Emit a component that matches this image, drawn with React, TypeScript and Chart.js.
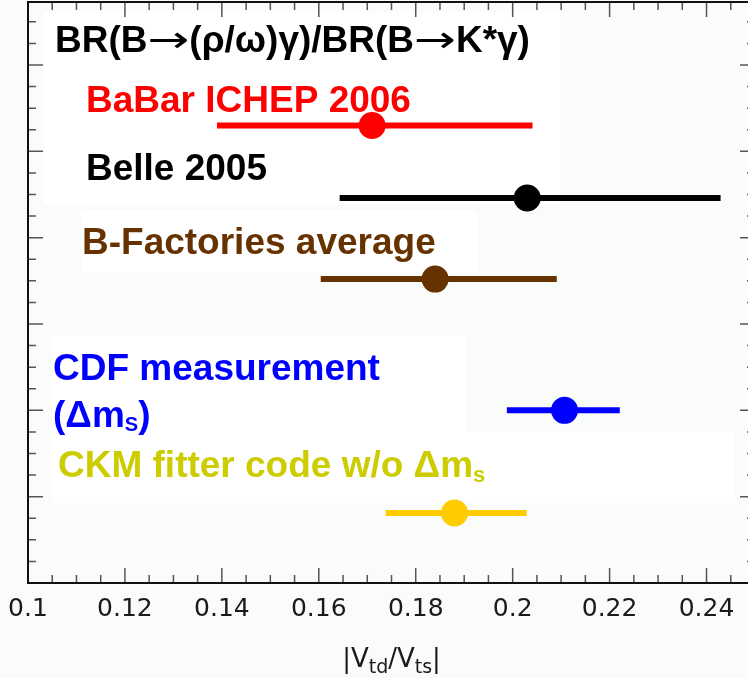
import React, { useEffect, useRef } from "react";
import { Chart, registerables } from "chart.js";

Chart.register(...registerables);

// ---------------- data ----------------
const measurements = [
  "BaBar ICHEP 2006",
  "Belle 2005",
  "B-Factories average",
  "CDF measurement (Δm_S)",
  "CKM fitter code w/o Δm_s",
];
const centralValues = [0.171, 0.203, 0.184, 0.2107, 0.188];
const lowerBounds = [0.139, 0.1643, 0.1604, 0.1988, 0.1738];
const upperBounds = [0.2041, 0.2429, 0.2091, 0.2221, 0.2029];
const rowPositions = [5.3, 4.46, 3.52, 2.0, 0.81];
const markColors = ["#ff0000", "#000000", "#663300", "#0000ff", "#ffcc00"];
const textColors = ["#ff0000", "#000000", "#663300", "#0000ff", "#cccc00"];

const xMin = 0.1;
const xMax = 0.25;
const xStep = 0.02;
const xMinorStep = 0.005;
const yMin = 0;
const yMax = 6.73;
const yMinorStep = 0.25;

// ---------------- styling / layout ----------------
const FONT = '"Liberation Sans", Arial, Helvetica, sans-serif';
const TICK_FONT = '"DejaVu Sans", "Liberation Sans", sans-serif';
const BG = "#f9fcf9";
const CANVAS_W = 770;
const CANVAS_H = 678;

// text run: text, subscript?, font family, weight, horizontal stretch
type Run = { t: string; sub?: boolean; fam?: string; wt?: string; sx?: number };
const ARROW: Run = { t: "→", fam: TICK_FONT, wt: "normal", sx: 1.35 };
const annotations: { runs: Run[]; color: string; x: number; y: number; size: number; subSize: number; subDy: number }[] = [
  {
    runs: [{ t: "BR(B" }, ARROW, { t: "(ρ/ω)γ)/BR(B" }, ARROW, { t: "K*γ)" }],
    color: "#000000", x: 55, y: 52, size: 37, subSize: 20, subDy: 4,
  },
  { runs: [{ t: "BaBar ICHEP 2006" }], color: textColors[0], x: 86, y: 112, size: 37, subSize: 20, subDy: 4 },
  { runs: [{ t: "Belle 2005" }], color: textColors[1], x: 86, y: 180, size: 37, subSize: 20, subDy: 4 },
  { runs: [{ t: "B-Factories average" }], color: textColors[2], x: 82, y: 254, size: 37, subSize: 20, subDy: 4 },
  { runs: [{ t: "CDF measurement" }], color: textColors[3], x: 53, y: 380, size: 37, subSize: 20, subDy: 4 },
  { runs: [{ t: "(Δm" }, { t: "S", sub: true }, { t: ")" }], color: textColors[3], x: 53, y: 427, size: 37, subSize: 20, subDy: 4 },
  { runs: [{ t: "CKM fitter code w/o Δm" }, { t: "s", sub: true }], color: textColors[4], x: 58, y: 477, size: 37, subSize: 22, subDy: 5 },
];

const whiteBoxes = [
  [44, 12, 560, 205],
  [81, 210, 477, 273],
  [52, 335, 465, 432],
  [52, 432, 735, 503],
];

function setFont(ctx: CanvasRenderingContext2D, r: Run, size: number, subSize: number, weight: string, family: string) {
  ctx.font = `${r.wt || weight} ${r.sub ? subSize : size}px ${r.fam || family}`;
}

function drawRuns(ctx: CanvasRenderingContext2D, runs: Run[], x: number, y: number, size: number, subSize: number, subDy: number, weight: string, family: string) {
  let cx = x;
  for (const r of runs) {
    setFont(ctx, r, size, subSize, weight, family);
    const sx = r.sx || 1;
    const w = ctx.measureText(r.t).width * sx;
    ctx.save();
    ctx.translate(cx, r.sub ? y + subDy : y);
    ctx.scale(sx, 1);
    ctx.fillText(r.t, 0, 0);
    ctx.restore();
    cx += w;
  }
}

function runsWidth(ctx: CanvasRenderingContext2D, runs: Run[], size: number, subSize: number, weight: string, family: string) {
  let w = 0;
  for (const r of runs) {
    setFont(ctx, r, size, subSize, weight, family);
    w += ctx.measureText(r.t).width * (r.sx || 1);
  }
  return w;
}

const decorPlugin = {
  id: "decor",
  beforeDraw(chart: any) {
    const { ctx, width, height } = chart;
    ctx.save();
    ctx.fillStyle = BG;
    ctx.fillRect(0, 0, width, height);
    ctx.fillStyle = "#ffffff";
    for (const b of whiteBoxes) ctx.fillRect(b[0], b[1], b[2] - b[0], b[3] - b[1]);
    ctx.restore();
  },
  beforeDatasetsDraw(chart: any) {
    const { ctx, chartArea } = chart;
    const { left, right, top, bottom } = chartArea;
    const xs = chart.scales.x;
    const ys = chart.scales.y;
    ctx.save();
    ctx.strokeStyle = "#555555";
    ctx.lineWidth = 1.5;
    const nx = Math.round((xMax - xMin) / xMinorStep);
    const perMajorX = Math.round(xStep / xMinorStep);
    for (let k = 0; k <= nx; k++) {
      const px = xs.getPixelForValue(xMin + k * xMinorStep);
      const len = k % perMajorX === 0 ? 15 : 8;
      ctx.beginPath();
      ctx.moveTo(px, bottom);
      ctx.lineTo(px, bottom - len);
      ctx.moveTo(px, top);
      ctx.lineTo(px, top + len);
      ctx.stroke();
    }
    const ny = Math.floor((yMax - yMin) / yMinorStep);
    for (let k = 0; k <= ny; k++) {
      const py = ys.getPixelForValue(yMin + k * yMinorStep);
      const len = k % 4 === 0 ? 15 : 8;
      ctx.beginPath();
      ctx.moveTo(left, py);
      ctx.lineTo(left + len, py);
      ctx.moveTo(right, py);
      ctx.lineTo(right - len, py);
      ctx.stroke();
    }
    ctx.strokeStyle = "#111111";
    ctx.lineWidth = 2;
    ctx.strokeRect(left, top, right - left, bottom - top);
    ctx.restore();
  },
  afterDraw(chart: any) {
    const { ctx, chartArea } = chart;
    ctx.save();
    ctx.textBaseline = "alphabetic";
    ctx.textAlign = "left";
    for (const a of annotations) {
      ctx.fillStyle = a.color;
      drawRuns(ctx, a.runs, a.x, a.y, a.size, a.subSize, a.subDy, "bold", FONT);
    }
    // axis title |V_td/V_ts|
    const axisRuns: Run[] = [{ t: "|V" }, { t: "td", sub: true }, { t: "/V" }, { t: "ts", sub: true }, { t: "|" }];
    const w = runsWidth(ctx, axisRuns, 26, 19, "normal", TICK_FONT);
    const cx = (chartArea.left + chartArea.right) / 2;
    ctx.fillStyle = "#1a1a1a";
    drawRuns(ctx, axisRuns, cx - w / 2, 667, 26, 19, 6, "normal", TICK_FONT);
    ctx.restore();
  },
};

export default function App() {
  const ref = useRef<HTMLCanvasElement | null>(null);

  useEffect(() => {
    document.body.style.margin = "0";
    const canvas = ref.current;
    if (!canvas) return;

    const datasets: any[] = [];
    measurements.forEach((name, i) => {
      datasets.push({
        type: "line",
        label: name + " range",
        data: [
          { x: lowerBounds[i], y: rowPositions[i] },
          { x: upperBounds[i], y: rowPositions[i] },
        ],
        borderColor: markColors[i],
        borderWidth: 6,
        borderCapStyle: "butt",
        pointRadius: 0,
        fill: false,
        order: 2,
      });
      datasets.push({
        type: "scatter",
        label: name,
        data: [{ x: centralValues[i], y: rowPositions[i] }],
        backgroundColor: markColors[i],
        borderColor: markColors[i],
        borderWidth: 0,
        pointRadius: 13.5,
        order: 1,
      });
    });

    const chart = new Chart(canvas, {
      type: "scatter",
      data: { datasets },
      options: {
        responsive: false,
        animation: false,
        devicePixelRatio: 1,
        layout: { autoPadding: false, padding: { left: 28, right: 15, top: 2, bottom: 35 } },
        plugins: {
          legend: { display: false },
          tooltip: { enabled: false },
        },
        scales: {
          x: {
            type: "linear",
            position: "bottom",
            min: xMin,
            max: xMax,
            grid: { display: false },
            border: { display: false },
            ticks: {
              stepSize: xStep,
              includeBounds: false,
              autoSkip: false,
              maxRotation: 0,
              padding: 3,
              color: "#1a1a1a",
              font: { family: TICK_FONT, size: 25 },
              callback: (v: any) => String(Number(Number(v).toFixed(3))),
            },
            afterFit: (scale: any) => {
              scale.height = 60;
            },
          },
          y: {
            type: "linear",
            min: yMin,
            max: yMax,
            display: false,
          },
        },
      },
      plugins: [decorPlugin],
    } as any);

    return () => chart.destroy();
  }, []);

  return (
    <div style={{ width: 748, height: 678, overflow: "hidden", position: "relative" }}>
      <canvas ref={ref} width={CANVAS_W} height={CANVAS_H} style={{ display: "block" }} />
    </div>
  );
}
